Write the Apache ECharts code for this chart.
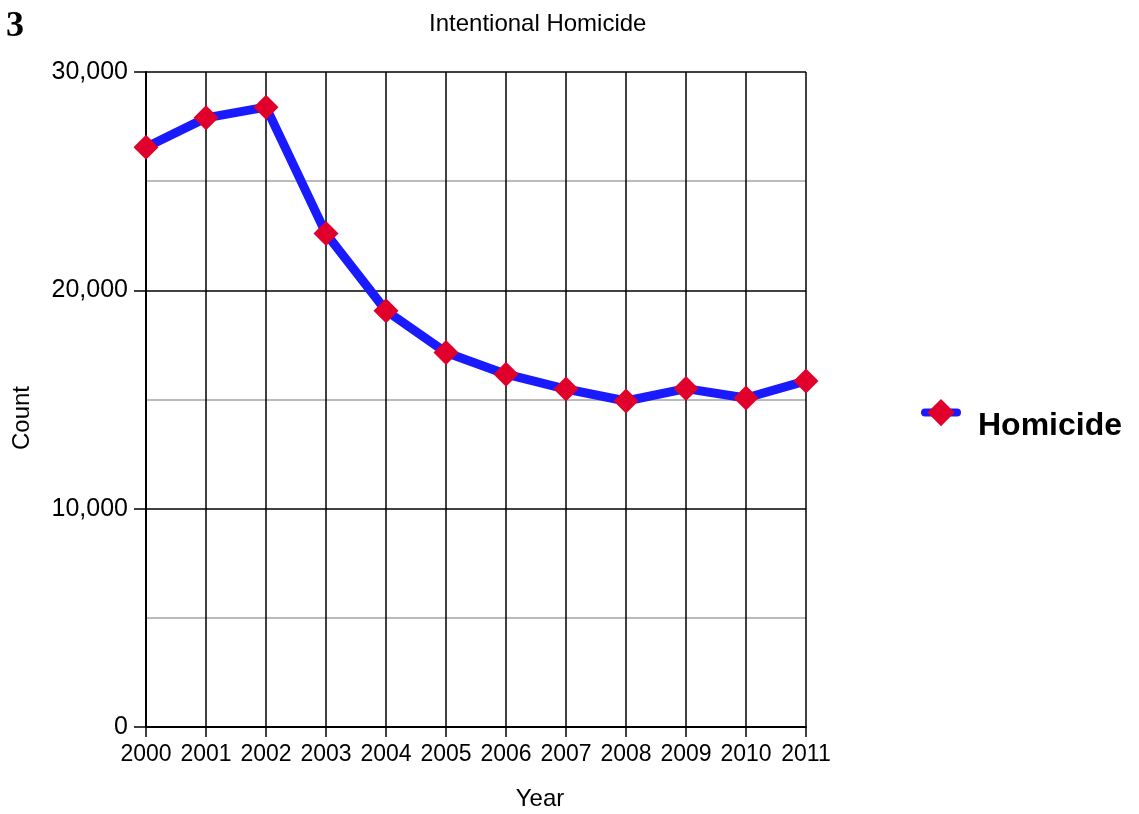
<!DOCTYPE html>
<html>
<head>
<meta charset="utf-8">
<script src="https://cdn.jsdelivr.net/npm/echarts@6/dist/echarts.min.js"></script>
<style>
  html, body { margin: 0; padding: 0; background: #fff; }
  #chart { width: 1139px; height: 814px; }
</style>
</head>
<body>
<div id="chart"></div>
<script>
// data
var years = ['2000', '2001', '2002', '2003', '2004', '2005', '2006', '2007', '2008', '2009', '2010', '2011'];
var homicide = [26550, 27900, 28390, 22600, 19070, 17150, 16160, 15480, 14930, 15500, 15070, 15850];
var seriesName = 'Homicide';

var chart = echarts.init(document.getElementById('chart'));
var font = 'Liberation Sans, Arial, Helvetica, sans-serif';

var option = {
  animation: false,
  title: {
    text: 'Intentional Homicide',
    left: 424,
    top: 7,
    textStyle: { fontFamily: font, fontSize: 24, fontWeight: 'normal', color: '#000' }
  },
  legend: {
    orient: 'vertical',
    left: 916,
    top: 394,
    itemWidth: 32,
    itemHeight: 34,
    lineStyle: { width: 8, cap: 'round' },
    formatter: '{n|{name}}',
    textStyle: {
      rich: {
        n: { fontFamily: font, fontSize: 32, fontWeight: 'bold', color: '#000', padding: [28, 0, 0, 16] }
      }
    },
    data: [seriesName]
  },
  graphic: [
    { type: 'text', left: 6, top: 9, style: { text: '3', font: 'bold 36px "Liberation Serif", "Times New Roman", serif', fill: '#000' } },
    { type: 'text', x: 540, y: 799, style: { text: 'Year', font: '24px ' + font, fill: '#000', align: 'center', verticalAlign: 'middle' } },
    { type: 'text', x: 22, y: 418, rotation: Math.PI / 2, style: { text: 'Count', font: '24px ' + font, fill: '#000', align: 'center', verticalAlign: 'middle' } }
  ],
  grid: { left: 146, right: 333, top: 72, bottom: 87, containLabel: false },
  xAxis: {
    type: 'category',
    data: years,
    boundaryGap: false,
    axisLine: { lineStyle: { color: '#000', width: 2 } },
    axisTick: { show: true, interval: 0, length: 10, lineStyle: { color: '#000', width: 1.5 } },
    axisLabel: { interval: 0, margin: 16, fontFamily: font, fontSize: 23, color: '#000' },
    splitLine: { show: true, interval: 0, lineStyle: { color: '#000', width: 1.5 } }
  },
  yAxis: {
    type: 'value',
    min: 0,
    max: 30000,
    interval: 10000,
    axisLine: { show: true, lineStyle: { color: '#000', width: 2 } },
    axisTick: { show: true, length: 12, lineStyle: { color: '#000', width: 1.5 } },
    axisLabel: { margin: 18, fontFamily: font, fontSize: 25, color: '#000' },
    splitLine: { show: true, lineStyle: { color: '#000', width: 1.5 } },
    minorTick: { show: false, splitNumber: 2 },
    minorSplitLine: { show: true, lineStyle: { color: '#bbb', width: 2 } }
  },
  series: [
    {
      name: seriesName,
      type: 'line',
      data: homicide,
      symbol: 'diamond',
      symbolSize: 25,
      lineStyle: { color: '#1a1aff', width: 9 },
      itemStyle: { color: '#e0002b' },
      z: 3
    }
  ]
};

chart.setOption(option);
</script>
</body>
</html>
